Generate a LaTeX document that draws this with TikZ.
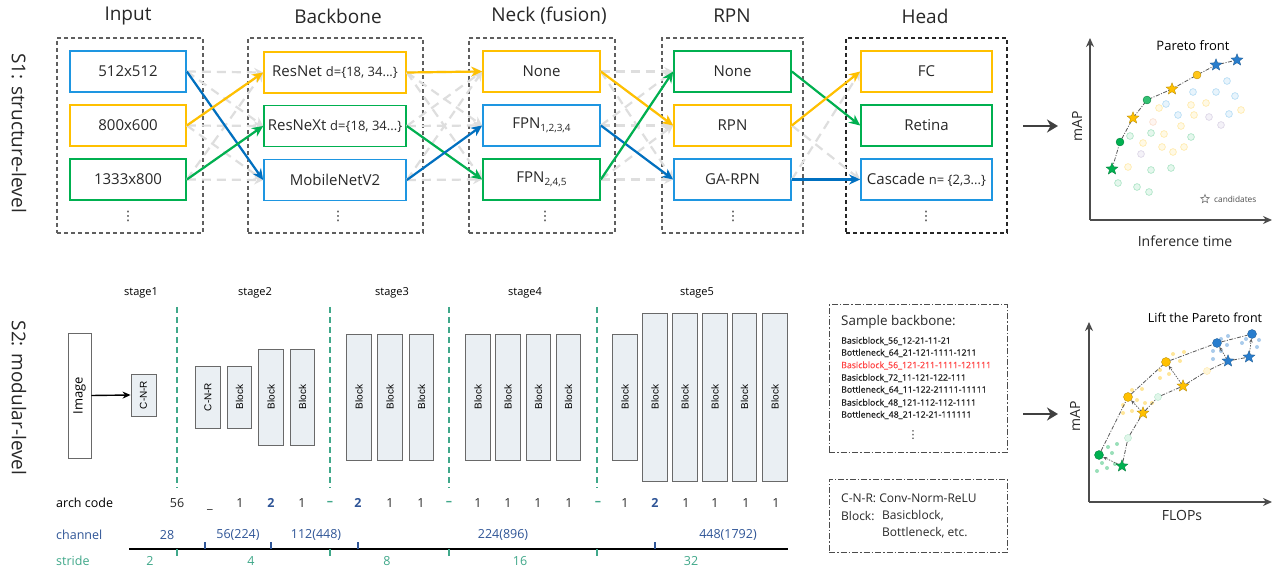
\documentclass[tikz,border=0pt]{standalone}
\usepackage{fontspec}
\setmainfont{Open Sans}
\newfontfamily\arialf{Liberation Sans}
\newfontfamily\djv{DejaVu Sans}
\newfontfamily\semib[FakeBold=0.35]{Open Sans}
\usetikzlibrary{arrows.meta,shapes.geometric}
\definecolor{cblue}{RGB}{30,150,225}
\definecolor{ablue}{RGB}{0,112,192}
\definecolor{cyel}{RGB}{255,192,0}
\definecolor{cgrn}{RGB}{0,176,80}
\definecolor{grpgray}{RGB}{95,95,95}
\definecolor{lgray}{RGB}{222,222,222}
\definecolor{txt}{RGB}{40,40,40}
\definecolor{blkfill}{RGB}{234,239,243}
\definecolor{blkdraw}{RGB}{105,105,105}
\definecolor{chblue}{RGB}{47,85,151}
\definecolor{stealc}{RGB}{64,168,138}
\definecolor{redt}{RGB}{255,70,70}
\definecolor{pblue}{RGB}{40,125,205}
\definecolor{ppurp}{RGB}{150,130,180}
\definecolor{porng}{RGB}{240,160,110}
\newcommand\fsz[2]{\fontsize{#1}{#2}\selectfont}
\begin{document}
\begin{tikzpicture}[x=1pt,y=-1pt,
  hdr/.style={font=\fsz{19}{23}, text=txt, inner sep=0},
  grp/.style={draw=grpgray, dash pattern=on 4pt off 3pt, line width=1.1pt, minimum width=#1, minimum height=195, inner sep=0},
  cbox/.style={draw=#1, line width=1.7pt, minimum height=41, inner sep=0, font=\fsz{15}{18}, text=txt},
  garrow/.style={draw=lgray, line width=2.2pt, dash pattern=on 9pt off 6pt, -{Stealth[length=9pt,width=9pt]}},
  carrow/.style={draw=#1, line width=2.2pt, -{Stealth[length=11pt,width=10pt]}},
  vd/.style={inner sep=0, font=\djv\fsz{13}{15}, text=txt},
  blk/.style={draw=blkdraw, fill=blkfill, line width=0.9pt, rotate=90, minimum height=24.5, minimum width=#1, inner sep=0, font=\arialf\fsz{10}{12}, text=black},
  stg/.style={font=\fsz{11}{13}, text=black, inner sep=0},
  sep/.style={draw=stealc, line width=1.5pt, dash pattern=on 6pt off 4pt},
  num/.style={font=\fsz{12.5}{15}, text=txt, inner sep=0},
  bnum/.style={font=\fsz{12.5}{15}\bfseries, text=chblue, inner sep=0},
  dnum/.style={font=\fsz{12.5}{15}\bfseries, text=stealc, inner sep=0},
  lbl/.style={font=\fsz{12.5}{15}, inner sep=0, anchor=west},
  dashdot/.style={draw=black!70, line width=1pt, dash pattern=on 6pt off 2pt on 1.5pt off 2pt},
  pareto/.style={draw=black!65, line width=0.8pt, dash pattern=on 4pt off 1.5pt on 1pt off 1.5pt},
  pd/.style={circle, inner sep=0, minimum size=#1, line width=0.3pt},
  ps/.style={star, star points=5, star point ratio=2.3, inner sep=0, minimum size=12.5pt, line width=0.3pt},
  axis/.style={draw=black!70, line width=1.8pt, -{Stealth[length=9pt,width=8pt]}},
  bigarrow/.style={draw=black!75, line width=2.5pt, -{Stealth[length=11pt,width=13pt]}},
  smpl/.style={font=\semib\fsz{8.8}{10}, inner sep=0, anchor=west, text=black!88}
]
\useasboundingbox (0,0) rectangle (1275,569);
\fill[white] (0,0) rectangle (1275,569);

% ---------- S1 ----------
\node[font=\fsz{19}{23}, text=txt, rotate=-90, inner sep=0] (s1lab) at (19,133) {S1: structure-level};
\node[hdr] (hIn) at (128,16) {Input};
\node[hdr] (hBb) at (338,16) {Backbone};
\node[hdr] (hNk) at (549,16) {Neck (fusion)};
\node[hdr] (hRp) at (732,16) {RPN};
\node[hdr] (hHd) at (925,16) {Head};

\node[grp=146] (gIn) at (130,135.5) {};
\node[grp=175] (gBb) at (335.5,135.5) {};
\node[grp=146] (gNk) at (542,135.5) {};
\node[grp=141] (gRp) at (732.5,135.5) {};
\node[grp=161, draw=black!85] (gHd) at (926.5,135.5) {};

% boxes
\node[cbox=cblue, minimum width=116] (i1) at (128,71.5) {512x512};
\node[cbox=cyel, minimum width=116] (i2) at (128,125.5) {800x600};
\node[cbox=cgrn, minimum width=116] (i3) at (128,179.5) {1333x800};
\node[cbox=cyel, minimum width=142] (b1) at (335,72.5) {ResNet \fsz{13}{15}d=\{18, 34...\}};
\node[cbox=cgrn, minimum width=142] (b2) at (335,126) {ResNeXt \fsz{13}{15}d=\{18, 34...\}};
\node[cbox=cblue, minimum width=142] (b3) at (335,180) {MobileNetV2};
\node[cbox=cyel, minimum width=117] (n1) at (541.5,71.5) {None};
\node[cbox=cblue, minimum width=117] (n2) at (541.5,125.5) {FPN\raisebox{-3.5pt}{\fsz{10}{12}1,2,3,4}};
\node[cbox=cgrn, minimum width=117] (n3) at (541.5,179.5) {FPN\raisebox{-3.5pt}{\fsz{10}{12}2,4,5}};
\node[cbox=cgrn, minimum width=117] (r1) at (732.5,71.5) {None};
\node[cbox=cyel, minimum width=117] (r2) at (732.5,125.5) {RPN};
\node[cbox=cblue, minimum width=117] (r3) at (732.5,179.5) {GA-RPN};
\node[cbox=cyel, minimum width=131] (h1) at (926.5,71.5) {FC};
\node[cbox=cgrn, minimum width=131] (h2) at (926.5,125.5) {Retina};
\node[cbox=cblue, minimum width=131] (h3) at (926.5,179.5) {Cascade \fsz{13}{15}n= \{2,3...\}};

\node[vd] (d1) at (128,216) {⋮};
\node[vd] (d2) at (338,216) {⋮};
\node[vd] (d3) at (545,216) {⋮};
\node[vd] (d4) at (733,216) {⋮};
\node[vd] (d5) at (926,216) {⋮};

% gray dashed candidates
\foreach \a in {1,2,3}{\foreach \b in {1,2,3}{
  \draw[garrow] (i\a.east) -- (b\b.west);
  \draw[garrow] (b\a.east) -- (n\b.west);
  \draw[garrow] (n\a.east) -- (r\b.west);
}}
\draw[garrow] (r2.east) -- (h3.west);
\draw[garrow] (r3.east) -- (h1.west);

% chosen paths
\draw[carrow=ablue] (i1.east) -- (b3.west);
\draw[carrow=cyel] (i2.east) -- (b1.west);
\draw[carrow=cgrn] (i3.east) -- (b2.west);
\draw[carrow=cyel] (b1.east) -- (n1.west);
\draw[carrow=cgrn] (b2.east) -- (n3.west);
\draw[carrow=ablue] (b3.east) -- (n2.west);
\draw[carrow=cyel] (n1.east) -- (r2.west);
\draw[carrow=ablue] (n2.east) -- (r3.west);
\draw[carrow=cgrn] (n3.east) -- (r1.west);
\draw[carrow=cgrn] (r1.east) -- (h2.west);
\draw[carrow=cyel] (r2.east) -- (h1.west);
\draw[carrow=ablue] (r3.east) -- (h3.west);

% arrow to chart 1
\coordinate (a1s) at (1023,126); \coordinate (a1e) at (1058,126);
\draw[bigarrow] (a1s) -- (a1e);

% chart 1
\coordinate (o1) at (1090,220); \coordinate (y1) at (1090,38); \coordinate (x1) at (1272,220);
\draw[axis] (o1) -- (y1);
\draw[axis] (o1) -- (x1);
\node[font=\fsz{14}{17}, text=txt, rotate=90, inner sep=0] (map1) at (1077,126) {mAP};
\node[font=\fsz{14}{17}, text=txt, inner sep=0] (inf1) at (1185,241) {Inference time};
\node[font=\fsz{13}{16}, text=black, inner sep=0] (pf1) at (1193,46) {Pareto front};
\node[ps, minimum size=9pt, draw=black!55, fill=white, line width=0.6pt] (cst) at (1205,199) {};
\node[font=\fsz{8.3}{10}, text=black!70, inner sep=0, anchor=west] (cand) at (1214,199) {candidates};
\foreach \x/\y/\c in {1159/108/cyel,1166/104/cblue,1193/92/cblue,1227/81/cblue,1216/92/cblue,1235/96/cblue,
  1191/105/cyel,1206/103/cyel,1178/115/cblue,1194/115/cyel,1209/117/ppurp,1229/114/cblue,1241/110/cyel,
  1153/122/porng,1181/126/cyel,1221/125/ppurp,1130/136/cgrn,1151/133/cgrn,1164/134/cyel,1191/137/cgrn,
  1143/143/cyel,1162/147/cyel,1173/152/cyel,1184/147/cyel,1141/154/ppurp,1128/167/cyel,1151/170/cgrn,
  1171/168/cgrn,1118/183/cgrn,1137/187/cgrn,1149/192/cgrn}
  \filldraw[fill=\c!10, draw=\c!35, line width=0.6pt] (\x,\y) circle[radius=3.4];
\coordinate (qc1) at (1112,169); \coordinate (qc2) at (1120,142); \coordinate (qc3) at (1133,118);
\coordinate (qc4) at (1147,100); \coordinate (qc5) at (1172,89); \coordinate (qc6) at (1197,75);
\coordinate (qc7) at (1216,65); \coordinate (qc8) at (1237,60);
\draw[pareto] (qc1) -- (qc2) -- (qc3) -- (qc4) -- (qc5) -- (qc6) -- (qc7) -- (qc8);
\node[ps, fill=cgrn, draw=cgrn!70!black] (q1) at (qc1) {};
\node[pd=8pt, fill=cgrn, draw=cgrn!70!black] (q2) at (qc2) {};
\node[ps, fill=cyel, draw=cyel!70!black] (q3) at (qc3) {};
\node[pd=8pt, fill=cgrn!80, draw=cgrn!70!black] (q4) at (qc4) {};
\node[ps, fill=cyel, draw=cyel!70!black] (q5) at (qc5) {};
\node[pd=8pt, fill=cyel!90, draw=cyel!70!black] (q6) at (qc6) {};
\node[ps, fill=pblue, draw=pblue!70!black] (q7) at (qc7) {};
\node[ps, fill=pblue, draw=pblue!70!black] (q8) at (qc8) {};

% ---------- S2 ----------
\node[font=\fsz{19}{23}, text=txt, rotate=-90, inner sep=0] (s2lab) at (19,398) {S2: modular-level};
\node[stg] (st1) at (141,293) {stage1};
\node[stg] (st2) at (255,293) {stage2};
\node[stg] (st3) at (392,293) {stage3};
\node[stg] (st4) at (525,293) {stage4};
\node[stg] (st5) at (697,293) {stage5};
\foreach \x [count=\i] in {177,330,449,597}{
  \coordinate (sepT\i) at (\x,307); \coordinate (sepB\i) at (\x,488);
  \draw[sep] (sepT\i) -- (sepB\i);}

\node[draw=blkdraw, fill=white, line width=0.9pt, rotate=90, minimum width=125, minimum height=23, inner sep=0, font=\fsz{13}{15}, text=black] (img) at (79.5,395.5) {Image};
\node[blk=42, minimum height=25] (c1) at (143.5,395) {C-N-R};
\draw[black, line width=1.4pt, -{Stealth[length=8pt,width=7pt]}] (img.south) -- (c1.north);

\node[blk=62] (c2) at (208,397) {C-N-R};
\node[blk=62] (k21) at (239.5,397) {Block};
\node[blk=96] (k22) at (271,397) {Block};
\node[blk=96] (k23) at (302.5,397) {Block};
\foreach \x [count=\i] in {359,390,421.5}{\node[blk=126] (k3\i) at (\x,397) {Block};}
\foreach \x [count=\i] in {478,508,538.5,568.5}{\node[blk=126] (k4\i) at (\x,397) {Block};}
\node[blk=126] (k51) at (625,397) {Block};
\foreach \x [count=\i from 2] in {655,685,715,744.5,775}{\node[blk=168] (k5\i) at (\x,397) {Block};}

% arch code
\node[lbl, text=black] (arch) at (56,503) {arch code};
\node[num] (ac0) at (177,503) {56};
\node[num] (ac1) at (210,509) {\_};
\node[num] (ac2) at (240,503) {1};
\node[bnum] (ac3) at (271,503) {2};
\node[num] (ac4) at (302,503) {1};
\node[dnum] (ac5) at (330,503) {–};
\node[bnum] (ac6) at (358,503) {2};
\node[num] (ac7) at (390,503) {1};
\node[num] (ac8) at (421,503) {1};
\node[dnum] (ac9) at (449,503) {–};
\foreach \x [count=\i] in {478,508,538,569}{\node[num] (ad\i) at (\x,503) {1};}
\node[dnum] (ae0) at (598,503) {–};
\node[num] (ae1) at (625,503) {1};
\node[bnum] (ae2) at (655,503) {2};
\foreach \x [count=\i from 3] in {686,715,746,776}{\node[num] (ae\i) at (\x,503) {1};}

% channel / stride
\node[lbl, text=chblue] (chl) at (56,535) {channel};
\node[num, text=chblue] (ch1) at (167,535) {28};
\node[num, text=chblue] (ch2) at (238,535) {56(224)};
\node[num, text=chblue] (ch3) at (316,535) {112(448)};
\node[num, text=chblue] (ch4) at (503,535) {224(896)};
\node[num, text=chblue] (ch5) at (728,535) {448(1792)};
\coordinate (tl0) at (129,549); \coordinate (tl1) at (788,549);
\draw[black, line width=1.3pt] (tl0) -- (tl1);
\foreach \x [count=\i] in {205,271,358,655}{\coordinate (bt\i) at (\x,542); \draw[chblue, line width=1.5pt] (bt\i) -- ++(0,7);}
\foreach \x [count=\i] in {177,330,449,597}{\coordinate (gt\i) at (\x,549); \draw[stealc, line width=1.5pt] (gt\i) -- ++(0,7);}
\node[lbl, text=stealc] (stl) at (56,561) {stride};
\node[num, text=stealc] (sr1) at (150,561) {2};
\node[num, text=stealc] (sr2) at (251,561) {4};
\node[num, text=stealc] (sr3) at (387,561) {8};
\node[num, text=stealc] (sr4) at (520,561) {16};
\node[num, text=stealc] (sr5) at (691,561) {32};

% sample backbone box
\node[dashdot, minimum width=178, minimum height=147, inner sep=0] (sbox) at (918,378.5) {};
\node[font=\fsz{13.4}{16}, text=txt, inner sep=0, anchor=west] (sbt) at (841,322) {Sample backbone:};
\node[smpl] (sl1) at (841,341) {Basicblock\_56\_12-21-11-21};
\node[smpl] (sl2) at (841,353) {Bottleneck\_64\_21-121-1111-1211};
\node[smpl, text=redt] (sl3) at (841,365.5) {Basicblock\_56\_121-211-1111-121111};
\node[smpl] (sl4) at (841,378) {Basicblock\_72\_11-121-122-111};
\node[smpl] (sl5) at (841,390) {Bottleneck\_64\_11-122-21111-11111};
\node[smpl] (sl6) at (841,403) {Basicblock\_48\_121-112-112-1111};
\node[smpl] (sl7) at (841,415) {Bottleneck\_48\_21-12-21-111111};
\node[vd, font=\djv\fsz{11}{13}] (sd) at (913,435) {⋮};

\node[dashdot, minimum width=178, minimum height=73, inner sep=0] (lbox) at (918,515.5) {};
\node[font=\fsz{12}{14}, text=txt, inner sep=0, anchor=west] (lg1) at (841,498) {C-N-R: Conv-Norm-ReLU};
\node[font=\fsz{12}{14}, text=txt, inner sep=0, anchor=west] (lg2) at (841,516) {Block:};
\node[font=\fsz{12}{14}, text=txt, inner sep=0, anchor=west] (lg3) at (882,516) {Basicblock,};
\node[font=\fsz{12}{14}, text=txt, inner sep=0, anchor=west] (lg4) at (882,533) {Bottleneck, etc.};

% arrow to chart 2
\coordinate (a2s) at (1023,414); \coordinate (a2e) at (1058,414);
\draw[bigarrow] (a2s) -- (a2e);

% chart 2
\coordinate (o2) at (1089,502); \coordinate (y2) at (1089,322); \coordinate (x2) at (1272,502);
\draw[axis] (o2) -- (y2);
\draw[axis] (o2) -- (x2);
\node[font=\fsz{14}{17}, text=txt, rotate=90, inner sep=0] (map2) at (1075,416) {mAP};
\node[font=\fsz{14}{17}, text=txt, inner sep=0] (flp) at (1182,515) {FLOPs};
\node[font=\fsz{12.5}{15}, text=black, inner sep=0] (lpf) at (1205,318) {Lift the Pareto front};
\foreach \x/\y/\c in {1102/463/cgrn,1097/471/cgrn,1107/468/cgrn,1108/447/cgrn,1112/453/cgrn,1117/444/cgrn,1115/464/cgrn,
  1123/405/cyel,1123/413/cyel,1132/411/cyel,1132/390/cyel,1137/400/cyel,1142/389/cyel,1145/403/cyel,1152/403/cyel,
  1160/370/cyel,1160/378/cyel,1169/374/cyel,1173/354/cyel,1180/361/cyel,1184/352/cyel,
  1213/351/pblue,1213/359/pblue,1221/339/pblue,1221/351/pblue,1228/336/pblue,1227/345/pblue,1242/343/pblue,1246/339/pblue,1257/347/pblue,1259/340/pblue}
  \fill[\c!40] (\x,\y) circle[radius=2];
\node[pd=9pt, fill=cgrn, draw=cgrn!70!black] (u1) at (1099,455) {};
\node[pd=9pt, fill=cyel, draw=cyel!70!black] (u2) at (1128,397) {};
\node[pd=9pt, fill=cyel, draw=cyel!70!black] (u3) at (1166,362) {};
\node[pd=9pt, fill=pblue, draw=pblue!70!black] (u4) at (1217,343) {};
\node[pd=9pt, fill=pblue, draw=pblue!70!black] (u5) at (1252,334) {};
\node[ps, fill=cgrn, draw=cgrn!70!black] (w1) at (1122,466) {};
\node[pd=7pt, fill=cgrn!12, draw=cgrn!35] (w2) at (1128,438) {};
\node[ps, fill=cyel, draw=cyel!70!black] (w3) at (1143,413) {};
\node[pd=7pt, fill=cgrn!12, draw=cgrn!35] (w4) at (1158,397) {};
\node[ps, fill=cyel, draw=cyel!70!black] (w5) at (1183,386) {};
\node[pd=7pt, fill=cyel!15, draw=cyel!40] (w6) at (1207,371) {};
\node[ps, fill=pblue, draw=pblue!70!black] (w7) at (1228,361) {};
\node[ps, fill=pblue, draw=pblue!70!black] (w8) at (1249,357) {};
\draw[pareto] (u1) -- (u2) -- (u3) -- (u4) -- (u5);
\draw[pareto] (w1) -- (w2) -- (w3) -- (w4) -- (w5) -- (w6) -- (w7) -- (w8);
\foreach \s/\t in {w1/u1,w3/u2,w5/u3,w7/u4,w8/u5}
  \draw[draw=black!65, line width=0.7pt, dash pattern=on 1.5pt off 1.2pt, -{Stealth[length=4pt,width=3.5pt]}] (\s) -- (\t);
\end{tikzpicture}
\end{document}
